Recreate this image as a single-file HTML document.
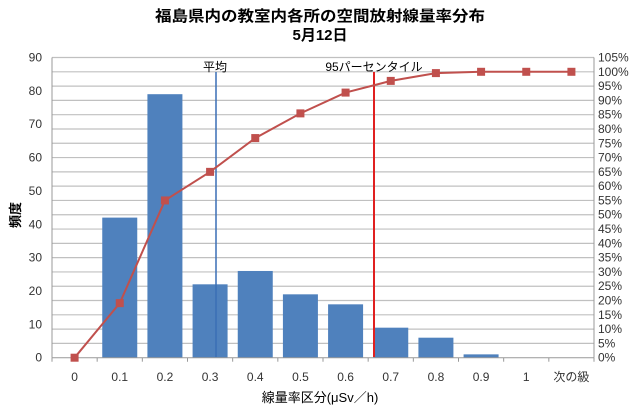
<!DOCTYPE html>
<html><head><meta charset="utf-8"><style>
body{margin:0;background:#fff}
text{font-family:"Liberation Sans","Noto Sans CJK JP",sans-serif;}
</style></head><body>
<svg width="640" height="415" xmlns="http://www.w3.org/2000/svg">
<rect width="640" height="415" fill="#fff"/>
<text x="320" y="21" font-size="15" font-weight="bold" text-anchor="middle" textLength="330" lengthAdjust="spacingAndGlyphs">福島県内の教室内各所の空間放射線量率分布</text>
<text x="320" y="40" font-size="15" font-weight="bold" text-anchor="middle">5月12日</text>
<g id="grid" stroke="#c0c0c0" stroke-width="1.2"></g>
<g id="bars" fill="#4f81bd"></g>
<line x1="52" y1="57.5" x2="52" y2="357.7" stroke="#999"/>
<line x1="594" y1="57.5" x2="594" y2="357.7" stroke="#999"/>
<line x1="52" y1="357.7" x2="594" y2="357.7" stroke="#999"/>
<g id="ticks" stroke="#999"></g>
<line x1="216" y1="72" x2="216" y2="357" stroke="#3a6fb5" stroke-width="1.5"/>
<line x1="374" y1="72" x2="374" y2="357" stroke="#e02020" stroke-width="2"/>
<text x="215" y="71" font-size="12" text-anchor="middle">平均</text>
<text x="374" y="71" font-size="12" text-anchor="middle">95パーセンタイル</text>
<polyline id="cum" fill="none" stroke="#c0504d" stroke-width="2"/>
<g id="marks" fill="#c0504d"></g>
<g id="labels" font-size="12" fill="#333"></g>
<text x="320" y="402" font-size="13" text-anchor="middle">線量率区分(μSv／h)</text>
<text x="0" y="0" font-size="13" font-weight="bold" text-anchor="middle" transform="translate(20,215) rotate(-90)">頻度</text>
</svg>
<script>
(function(){
var ns="http://www.w3.org/2000/svg";
function el(p,t,a,tx){var e=document.createElementNS(ns,t);for(var k in a)e.setAttribute(k,a[k]);if(tx!=null)e.textContent=tx;document.getElementById(p).appendChild(e);}
var T=57.5,B=357.7,L=52,R=594,H=B-T;
for(var i=0;i<=21;i++){var y=B-H*i/21;if(i>0)el("grid","line",{x1:L,y1:y,x2:R,y2:y});
el("labels","text",{x:598,y:y+4},(i*5)+"%");}
for(var v=0;v<=90;v+=10){var y=B-H*v/90;el("labels","text",{x:42,y:y+4,"text-anchor":"end"},v);}
var cw=(R-L)/12,vals=[0,42,79,22,26,19,16,9,6,1,0,0],cats=["0","0.1","0.2","0.3","0.4","0.5","0.6","0.7","0.8","0.9","1","次の級"];
var tot=220,c=0,pts=[];
for(var i=0;i<12;i++){var cx=L+cw*(i+0.5);
if(vals[i]>0){var bh=H*vals[i]/90;el("bars","rect",{x:cx-17.5,y:B-bh,width:35,height:bh});}
el("ticks","line",{x1:L+cw*i,y1:B,x2:L+cw*i,y2:B+4});
el("labels","text",{x:cx,y:381,"text-anchor":"middle"},cats[i]);
c+=vals[i];var p=c/tot*100;var y=B-H*p/105;pts.push(cx+","+y);
el("marks","rect",{x:cx-4,y:y-4,width:8,height:8});}
el("ticks","line",{x1:R,y1:B,x2:R,y2:B+4});
document.getElementById("cum").setAttribute("points",pts.join(" "));
})();
</script>
</body></html>
